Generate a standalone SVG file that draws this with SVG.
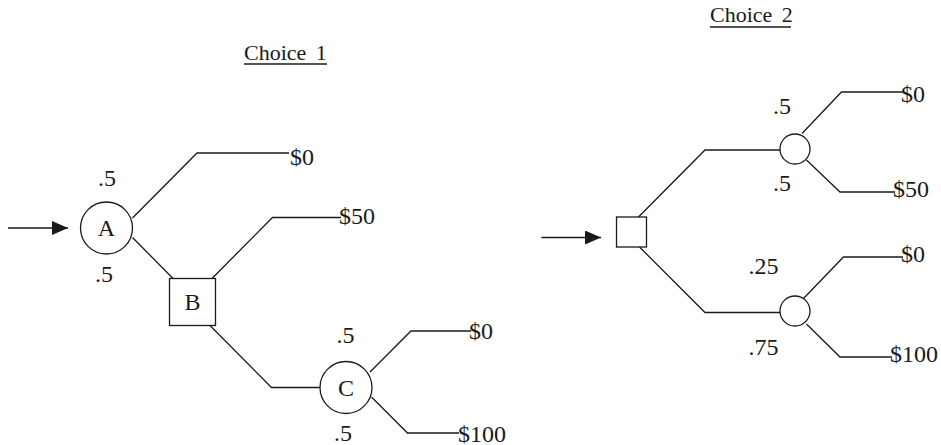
<svg xmlns="http://www.w3.org/2000/svg" width="941" height="445" viewBox="0 0 941 445">
  <style>
    .edge { fill: none; stroke: #1a1a1a; stroke-width: 1.3; }
    .shape { fill: #ffffff; stroke: #1a1a1a; stroke-width: 1.3; }
    .lbl { font-family: "Liberation Serif", "Times New Roman", serif; font-size: 24px; fill: #1a1a1a; }
    .mid { text-anchor: middle; }
    .title { font-family: "Liberation Serif", "Times New Roman", serif; font-size: 22px; fill: #1a1a1a; word-spacing: 4px; }
    .rule { stroke: #1a1a1a; stroke-width: 1.3; }
  </style>
  <defs>
    <marker id="head" viewBox="0 0 16 14" refX="16" refY="7" markerWidth="16" markerHeight="14" markerUnits="userSpaceOnUse" orient="auto">
      <path d="M0,0 L16,7 L0,14 Z" fill="#1a1a1a"/>
    </marker>
  </defs>

  <rect width="941" height="445" fill="#ffffff"/>

  <!-- titles -->
  <g id="title-1">
    <text class="title" x="244" y="59.5">Choice 1</text>
    <line class="rule" x1="244" y1="64" x2="327" y2="64"/>
  </g>
  <g id="title-2">
    <text class="title" x="710" y="22">Choice 2</text>
    <line class="rule" x1="710" y1="27" x2="791" y2="27"/>
  </g>

  <!-- connectors -->
  <g id="connectors">
    <!-- tree 1 -->
    <line class="edge" x1="8" y1="228" x2="68" y2="228" marker-end="url(#head)"/>
    <path class="edge" d="M132.5,218 L197,153 H289"/>
    <path class="edge" d="M132.5,237.5 L173,278.5"/>
    <path class="edge" d="M212,278.5 L272.5,217.5 H341"/>
    <path class="edge" d="M210,325.5 L271.5,387.5 H320"/>
    <path class="edge" d="M370,372 L411,331 H471"/>
    <path class="edge" d="M371.5,397 L407.5,433 H459"/>
    <!-- tree 2 -->
    <line class="edge" x1="541.5" y1="237.5" x2="601" y2="237.5" marker-end="url(#head)"/>
    <path class="edge" d="M638.5,217 L705,150 H780"/>
    <path class="edge" d="M802,133.5 L841.5,92 H903"/>
    <path class="edge" d="M806.5,160 L840,192 H895"/>
    <path class="edge" d="M639.5,247 L705,312.5 H780"/>
    <path class="edge" d="M803.5,298.5 L843.5,257 H903"/>
    <path class="edge" d="M806.5,324 L840,357 H892"/>
  </g>

  <!-- tree 1 nodes -->
  <g id="node-A">
    <circle class="shape" cx="106.5" cy="228" r="26"/>
    <text class="lbl mid" x="106.5" y="236">A</text>
  </g>
  <g id="node-B">
    <rect class="shape" x="169.5" y="278.5" width="46" height="47"/>
    <text class="lbl mid" x="192.5" y="310">B</text>
  </g>
  <g id="node-C">
    <circle class="shape" cx="346" cy="387.5" r="26"/>
    <text class="lbl mid" x="346" y="396">C</text>
  </g>

  <!-- tree 2 nodes -->
  <g id="node-D">
    <rect class="shape" x="616.5" y="217" width="30" height="30"/>
  </g>
  <g id="node-E">
    <circle class="shape" cx="795" cy="149" r="15"/>
  </g>
  <g id="node-F">
    <circle class="shape" cx="795" cy="311" r="15"/>
  </g>

  <!-- probabilities -->
  <g id="probabilities">
    <text class="lbl mid" x="107" y="186">.5</text>
    <text class="lbl mid" x="104" y="282">.5</text>
    <text class="lbl mid" x="345.5" y="343">.5</text>
    <text class="lbl mid" x="343" y="441">.5</text>
    <text class="lbl mid" x="782" y="113.5">.5</text>
    <text class="lbl mid" x="782" y="191">.5</text>
    <text class="lbl mid" x="763.5" y="273.5">.25</text>
    <text class="lbl mid" x="763.5" y="355">.75</text>
  </g>

  <!-- payoffs -->
  <g id="payoffs">
    <text class="lbl" x="290" y="165">$0</text>
    <text class="lbl" x="339" y="223.5">$50</text>
    <text class="lbl" x="469" y="338.5">$0</text>
    <text class="lbl" x="458" y="441.5">$100</text>
    <text class="lbl" x="901" y="101.5">$0</text>
    <text class="lbl" x="893" y="197">$50</text>
    <text class="lbl" x="901" y="262">$0</text>
    <text class="lbl" x="890" y="362">$100</text>
  </g>
</svg>
